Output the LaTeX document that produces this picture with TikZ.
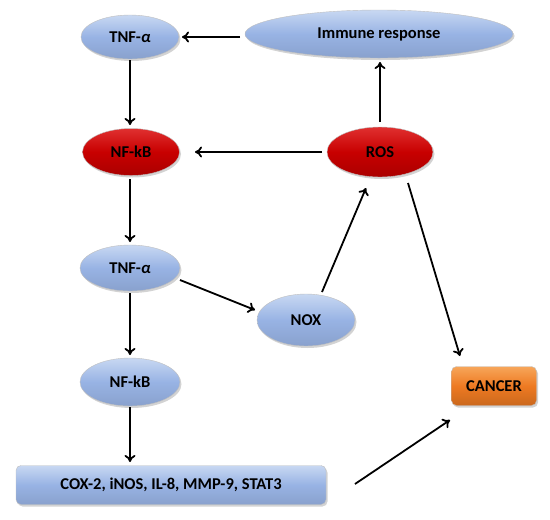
\documentclass[tikz,border=0pt]{standalone}
\usepackage{fontspec}
\setmainfont{Carlito}
\usetikzlibrary{arrows.meta,shadows,shapes.geometric}
\definecolor{bluebase}{HTML}{98B3E4}
\definecolor{bluetop}{HTML}{C8D8F2}
\definecolor{redbase}{HTML}{C80000}
\definecolor{redtop}{HTML}{E03030}
\definecolor{orbase}{HTML}{EE7A22}
\definecolor{ortop}{HTML}{F7A65A}
\tikzset{
  base/.style={font=\bfseries\fontsize{16.5}{19}\selectfont, text=black, inner sep=0pt, draw=black!25, line width=0.4pt,
    drop shadow={shadow xshift=1.5pt,shadow yshift=-2pt,opacity=0.35}},
  blueell/.style={base, ellipse, top color=bluetop, bottom color=bluebase!90!black, middle color=bluebase},
  redell/.style={base, ellipse, top color=redtop, bottom color=redbase!85!black, middle color=redbase},
  bluebox/.style={base, rounded corners=5pt, top color=bluetop, bottom color=bluebase!90!black, middle color=bluebase},
  orbox/.style={base, rounded corners=5pt, top color=ortop, bottom color=orbase!85!black, middle color=orbase},
  arr/.style={-{To[length=7pt,width=11pt]}, line width=1.8pt, black}
}
\begin{document}
\begin{tikzpicture}[x=1pt,y=-1pt]
\useasboundingbox (0,0) rectangle (550,520);
\node[blueell, minimum width=98pt, minimum height=44pt] (tnf1) at (130,37) {TNF-\textit{α}};
\node[blueell, minimum width=268pt, minimum height=48pt] (imm) at (379,34) {Immune response};
\node[redell, minimum width=97pt, minimum height=47pt] (nfkb1) at (131,152) {NF-kB};
\node[redell, minimum width=106pt, minimum height=50pt] (ros) at (380,152) {ROS};
\node[blueell, minimum width=100pt, minimum height=46pt] (tnf2) at (130,268) {TNF-\textit{α}};
\node[blueell, minimum width=98pt, minimum height=52pt] (nox) at (306,320) {NOX};
\node[blueell, minimum width=100pt, minimum height=48pt] (nfkb2) at (130,382) {NF-kB};
\node[bluebox, minimum width=310pt, minimum height=39pt] (cox) at (171,485) {COX-2, iNOS, IL-8, MMP-9, STAT3};
\node[orbox, minimum width=85pt, minimum height=39pt] (cancer) at (494,386) {CANCER};

\coordinate (a1) at (240,37); \coordinate (a2) at (182,37);
\draw[arr] (a1) -- (a2);
\coordinate (b1) at (130,60); \coordinate (b2) at (130,125);
\draw[arr] (b1) -- (b2);
\coordinate (c1) at (322,152); \coordinate (c2) at (195,152);
\draw[arr] (c1) -- (c2);
\coordinate (d1) at (380,122); \coordinate (d2) at (380,62);
\draw[arr] (d1) -- (d2);
\coordinate (e1) at (130,179); \coordinate (e2) at (130,242);
\draw[arr] (e1) -- (e2);
\coordinate (f1) at (130,293); \coordinate (f2) at (130,355);
\draw[arr] (f1) -- (f2);
\coordinate (g1) at (130,407); \coordinate (g2) at (130,462);
\draw[arr] (g1) -- (g2);
\coordinate (h1) at (180,280); \coordinate (h2) at (255,310);
\draw[arr] (h1) -- (h2);
\coordinate (i1) at (322,292); \coordinate (i2) at (366,188);
\draw[arr] (i1) -- (i2);
\coordinate (j1) at (408,183); \coordinate (j2) at (460,356);
\draw[arr] (j1) -- (j2);
\coordinate (k1) at (355,484); \coordinate (k2) at (450,420);
\draw[arr] (k1) -- (k2);
\end{tikzpicture}
\end{document}
